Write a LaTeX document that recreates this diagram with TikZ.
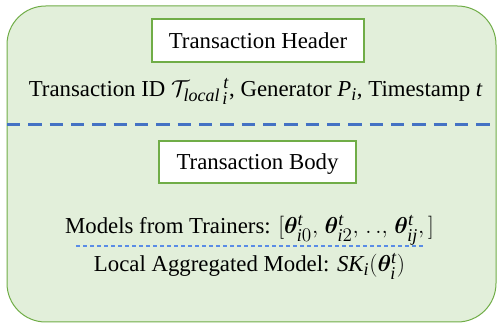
\documentclass[tikz,border=0pt]{standalone}
\usepackage{amsmath}
\usepackage{bm}
\usepackage{fontspec}
\setmainfont{Liberation Serif}
\DeclareMathSizes{17.1}{17.1}{13.5}{10.5}
\definecolor{boxfill}{HTML}{E2EFDA}
\definecolor{boxgreen}{HTML}{70AD47}
\definecolor{sepblue}{HTML}{4472C4}
\definecolor{lightblue}{HTML}{5A8CE6}
\newcommand{\mi}[1]{\mathit{#1}}
\tikzset{
  titlebox/.style={draw=boxgreen, line width=1.5pt, fill=white, inner sep=0pt, text height=11.3pt, text depth=0pt},
  txt/.style={anchor=base, inner sep=0pt},
}
\begin{document}
\begin{tikzpicture}[x=0.75pt, y=-0.75pt, font=\fontsize{17.1}{20}\selectfont]
\useasboundingbox (0,0) rectangle (497,324);
\draw[draw=boxgreen, fill=boxfill, line width=0.75pt, rounded corners=29pt] (7,6) rectangle (496,322);
\node[titlebox, minimum width=159pt, minimum height=32.25pt] (hdr) at (258,40.5) {Transaction Header};
\node[txt] (hline) at (255.5,97) {Transaction ID ${\mathcal{T}_{\mi{local}}}_{\mkern2mu\mi{i}}^{\,\mi{t}}$, Generator $\mi{P}_{\mi{i}}$, Timestamp $\mi{t}$};
\coordinate (sepL) at (7,125);
\coordinate (sepR) at (497,125);
\draw[sepblue, line width=2.25pt, dash pattern=on 10pt off 6pt] (sepL) -- (sepR);
\node[titlebox, minimum width=147.75pt, minimum height=31.5pt] (body) at (257.5,162) {Transaction Body};
\node[txt] (models) at (249.5,234) {Models from Trainers: $[\bm{\theta}_{\mi{i}0}^{\mi{t}},\mkern2mu\bm{\theta}_{\mi{i}2}^{\mi{t}},\mkern2mu\mathbf{.\,.},\mkern2mu\bm{\theta}_{\mi{ij}}^{\mi{t}},]$};
\coordinate (subL) at (76,246);
\coordinate (subR) at (425,246);
\draw[lightblue, line width=0.9pt, dash pattern=on 3pt off 2.25pt] (subL) -- (subR);
\node[txt] (local) at (249.5,272) {Local Aggregated Model: $\mi{SK}_{\mi{i}}(\bm{\theta}_{\mi{i}}^{\mi{t}})$};
\end{tikzpicture}
\end{document}
